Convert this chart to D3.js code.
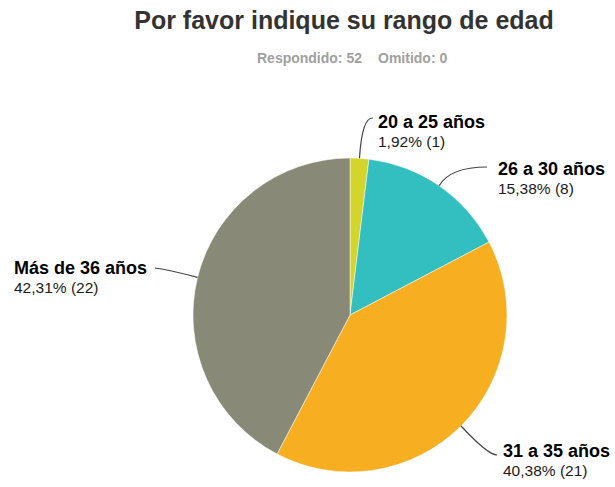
<!DOCTYPE html>
<html lang="es">
<head>
<meta charset="utf-8">
<title>Por favor indique su rango de edad</title>
<style>
  html,body{margin:0;background:#fff;font-family:"Liberation Sans",Arial,Helvetica,sans-serif;}
  svg{display:block;}
</style>
</head>
<body>
<div id="chart"></div>
<script src="https://cdn.jsdelivr.net/npm/d3@7"></script>
<script>
// data
const categories = ["20 a 25 años", "26 a 30 años", "31 a 35 años", "Más de 36 años"];
const counts = [1, 8, 21, 22];
const percents = ["1,92%", "15,38%", "40,38%", "42,31%"];
const colors = ["#d3d52d", "#33bec0", "#f7ae20", "#898977"];
const answered = 52, skipped = 0;

const width = 615, height = 487;
const cx = 350, cy = 315, radius = 157;

const svg = d3.select("#chart").append("svg")
    .attr("width", width)
    .attr("height", height);

// title + subtitle
svg.append("text")
    .attr("x", 344).attr("y", 29)
    .attr("text-anchor", "middle")
    .attr("font-size", 25).attr("font-weight", "bold")
    .attr("fill", "#333")
    .text("Por favor indique su rango de edad");

svg.append("text")
    .attr("x", 362).attr("y", 63)
    .attr("text-anchor", "end")
    .attr("font-size", 14).attr("font-weight", "bold")
    .attr("fill", "#a0a0a0")
    .text(`Respondido: ${answered}`);

svg.append("text")
    .attr("x", 378).attr("y", 63)
    .attr("font-size", 14).attr("font-weight", "bold")
    .attr("fill", "#a0a0a0")
    .text(`Omitido: ${skipped}`);

const pie = d3.pie().sort(null).value(d => d);
const arcs = pie(counts);
const arc = d3.arc().innerRadius(0).outerRadius(radius);

const g = svg.append("g").attr("transform", `translate(${cx},${cy})`);

g.selectAll("path.slice")
    .data(arcs)
    .enter().append("path")
    .attr("class", "slice")
    .attr("d", arc)
    .attr("fill", (d, i) => colors[i])
    .attr("stroke", "#fff")
    .attr("stroke-width", 0.5);

// label layout, relative to the pie centre: elbow, line end, text anchor
const layout = [
    { elbow: [12, -198], end: [23, -197], text: [28, -187] },
    { elbow: [100, -148], end: [137, -148], text: [148, -140] },
    { elbow: [138, 140], end: [147, 140], text: [153, 142] },
    { elbow: [-180, -45], end: [-195, -47], text: [-336, -41] }
];

const edge = d3.arc().innerRadius(radius).outerRadius(radius);

arcs.forEach((d, i) => {
    const p = edge.centroid(d);
    const L = layout[i];
    const path = d3.path();
    path.moveTo(p[0], p[1]);
    path.quadraticCurveTo(L.elbow[0], L.elbow[1], L.end[0], L.end[1]);
    g.append("path")
        .attr("d", path.toString())
        .attr("fill", "none")
        .attr("stroke", "#444")
        .attr("stroke-width", 1.2);

    const t = g.append("text")
        .attr("x", L.text[0]).attr("y", L.text[1])
        .attr("fill", "#000");
    t.append("tspan")
        .attr("font-size", 18).attr("font-weight", "bold")
        .text(categories[i]);
    t.append("tspan")
        .attr("x", L.text[0]).attr("dy", 18.5)
        .attr("font-size", 15.5)
        .attr("fill", "#1a1a1a")
        .text(`${percents[i]} (${counts[i]})`);
});
</script>
</body>
</html>
